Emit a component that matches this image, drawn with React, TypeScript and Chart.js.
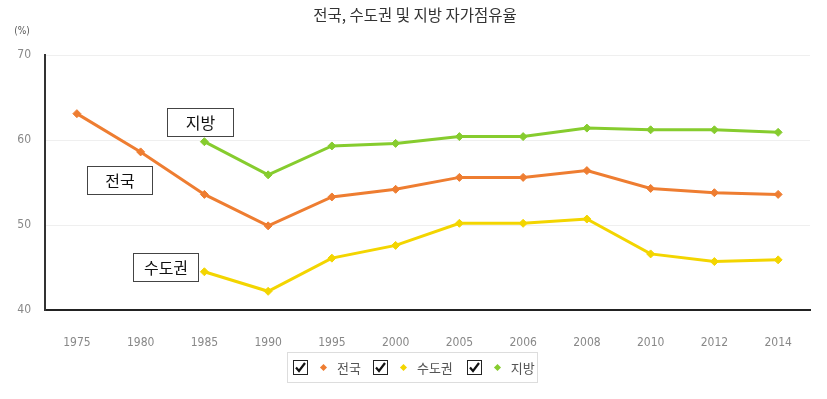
import React, { useEffect, useRef } from "react";
import { Chart, registerables } from "chart.js";

Chart.register(...registerables);

const title = "전국, 수도권 및 지방 자가점유율";
const unitLabel = "(%)";
const years = ["1975", "1980", "1985", "1990", "1995", "2000", "2005", "2006", "2008", "2010", "2012", "2014"];
const nationName = "전국";
const capitalName = "수도권";
const regionName = "지방";
const nation = [63.1, 58.6, 53.6, 49.9, 53.3, 54.2, 55.6, 55.6, 56.4, 54.3, 53.8, 53.6];
const capital = [null, null, 44.5, 42.2, 46.1, 47.6, 50.2, 50.2, 50.7, 46.6, 45.7, 45.9];
const region = [null, null, 59.8, 55.9, 59.3, 59.6, 60.4, 60.4, 61.4, 61.2, 61.2, 60.9];
const yTicks = [40, 50, 60, 70];

const ORANGE = "#ee7d31";
const YELLOW = "#f3d500";
const GREEN = "#86cc2e";
const TICK_FONT = "'DejaVu Sans Condensed', 'Liberation Sans Narrow', 'Liberation Sans', sans-serif";

const labelBoxes = [
  { text: regionName, x: 167, y: 108, w: 66, h: 28 },
  { text: nationName, x: 87, y: 166, w: 65, h: 28 },
  { text: capitalName, x: 133, y: 253, w: 65, h: 28 },
];

const overlayPlugin = {
  id: "overlay",
  afterDraw(chart: any) {
    const ctx = chart.ctx;
    ctx.save();
    ctx.fillStyle = "#333";
    ctx.font = "15.5px 'Noto Sans CJK KR', sans-serif";
    ctx.textAlign = "center";
    ctx.textBaseline = "middle";
    ctx.fillText(title, 415, 15);
    ctx.fillStyle = "#555";
    ctx.font = "10px " + TICK_FONT;
    ctx.fillText(unitLabel, 22, 31);
    for (const b of labelBoxes) {
      ctx.fillStyle = "#fff";
      ctx.fillRect(b.x, b.y, b.w, b.h);
      ctx.strokeStyle = "#444";
      ctx.lineWidth = 1;
      ctx.strokeRect(b.x + 0.5, b.y + 0.5, b.w, b.h);
      ctx.fillStyle = "#111";
      ctx.font = "16px 'Noto Sans CJK KR', sans-serif";
      ctx.fillText(b.text, b.x + b.w / 2 + 0.5, b.y + b.h / 2 + 1);
    }
    ctx.restore();
  },
};

function CheckBox() {
  return (
    <span
      style={{
        display: "inline-block",
        flex: "0 0 auto",
        width: 13,
        height: 13,
        border: "1px solid #222",
        position: "relative",
        background: "#fff",
      }}
    >
      <svg width="13" height="13" viewBox="0 0 13 13" style={{ position: "absolute", left: 0, top: 0 }}>
        <path d="M2 6.5 L5 10 L11 2" stroke="#111" strokeWidth="2.2" fill="none" />
      </svg>
    </span>
  );
}

function LegendItem({ color, label, gapAfter }: { color: string; label: string; gapAfter: number }) {
  return (
    <span style={{ display: "inline-flex", alignItems: "center", marginRight: gapAfter, whiteSpace: "nowrap", flex: "0 0 auto" }}>
      <CheckBox />
      <span
        style={{
          display: "inline-block",
          flex: "0 0 auto",
          width: 5,
          height: 5,
          background: color,
          transform: "rotate(45deg)",
          marginLeft: 13,
          marginRight: 11,
        }}
      />
      <span style={{ color: "#555", fontSize: 13, fontFamily: "'Noto Sans CJK KR', sans-serif", whiteSpace: "nowrap" }}>{label}</span>
    </span>
  );
}

export default function App() {
  const ref = useRef<HTMLCanvasElement>(null);
  useEffect(() => {
    document.body.style.margin = "0";
    const ds = (label: string, data: any[], color: string) => ({
      label,
      data,
      borderColor: color,
      backgroundColor: color,
      borderWidth: 3,
      pointStyle: "rectRot",
      pointRadius: 4,
      pointHoverRadius: 4,
      pointBorderWidth: 1,
      pointBorderColor: color,
      spanGaps: false,
      tension: 0,
    });
    const chart = new Chart(ref.current!, {
      type: "line",
      data: {
        labels: years,
        datasets: [ds(nationName, nation, ORANGE), ds(capitalName, capital, YELLOW), ds(regionName, region, GREEN)],
      },
      options: {
        responsive: false,
        animation: false,
        layout: { padding: { left: 0, right: 17, top: 55, bottom: 49 } },
        plugins: { legend: { display: false }, tooltip: { enabled: false }, title: { display: false } },
        scales: {
          x: {
            offset: true,
            grid: { display: false },
            border: { display: true, color: "#222", width: 2 },
            ticks: {
              color: "#888",
              padding: 18,
              font: { size: 12, family: TICK_FONT },
              maxRotation: 0,
              autoSkip: false,
            },
            afterFit: (s: any) => {
              s.height = 40;
            },
          },
          y: {
            min: 40,
            max: 70,
            afterBuildTicks: (s: any) => {
              s.ticks = yTicks.map((v) => ({ value: v }));
            },
            grid: { color: "#efefef", drawTicks: false },
            border: { display: true, color: "#333", width: 2 },
            ticks: {
              color: "#888",
              padding: 14,
              font: { size: 12, family: TICK_FONT },
            },
            afterFit: (s: any) => {
              s.width = 45;
            },
          },
        },
      },
      plugins: [overlayPlugin],
    } as any);
    return () => chart.destroy();
  }, []);
  return (
    <div style={{ position: "relative", width: 827, height: 399, background: "#fff" }}>
      <canvas ref={ref} width={827} height={399} style={{ display: "block" }} />
      <div
        style={{
          position: "absolute",
          left: 287,
          top: 352,
          width: 251,
          height: 31,
          border: "1px solid #ddd",
          boxSizing: "border-box",
          display: "flex",
          alignItems: "center",
          paddingLeft: 5,
          whiteSpace: "nowrap",
        }}
      >
        <LegendItem color={ORANGE} label={nationName} gapAfter={12} />
        <LegendItem color={YELLOW} label={capitalName} gapAfter={14} />
        <LegendItem color={GREEN} label={regionName} gapAfter={0} />
      </div>
    </div>
  );
}
